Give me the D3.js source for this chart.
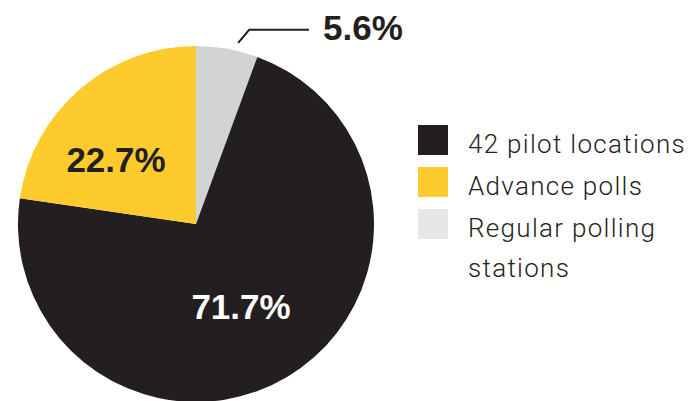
<!DOCTYPE html>
<html><head><meta charset="utf-8">
<script src="https://cdn.jsdelivr.net/npm/d3@7"></script>
<style>body{margin:0;background:#fff}svg{display:block}</style>
</head><body>
<script>
const categories = ["Regular polling stations", "42 pilot locations", "Advance polls"];
const values = [5.6, 71.7, 22.7];
const sliceLabels = ["5.6%", "71.7%", "22.7%"];
const colors = ["#d1d3d4", "#231f20", "#fecb2f"];
const legendItems = [["42 pilot locations"], ["Advance polls"], ["Regular polling", "stations"]];
const legendColors = ["#231f20", "#fecb2f", "#e6e7e8"];

const W = 696, H = 401;
const svg = d3.select("body").append("svg").attr("width", W).attr("height", H);
const cx = 196, cy = 224, R = 178;

const pie = d3.pie().sort(null).value(d => d)(values);
const arc = d3.arc().innerRadius(0).outerRadius(R);
const g = svg.append("g").attr("transform", `translate(${cx},${cy})`);
g.selectAll("path").data(pie).join("path").attr("d", arc).attr("fill", (d, i) => colors[i]);

const font = "'Liberation Sans', Arial, sans-serif";
// 71.7% label
g.append("text").attr("x", 45).attr("y", 95).attr("text-anchor", "middle")
  .attr("font-family", font).attr("font-weight", 700).attr("font-size", 35)
  .attr("fill", "#fff").text(sliceLabels[1]);
// 22.7% label
g.append("text").attr("x", -80).attr("y", -52).attr("text-anchor", "middle")
  .attr("font-family", font).attr("font-weight", 700).attr("font-size", 35)
  .attr("fill", "#231f20").text(sliceLabels[2]);
// leader for 5.6%
const ang = pie[0].startAngle + 0.65 * (pie[0].endAngle - pie[0].startAngle);
const p0 = [Math.sin(ang) * (R + 8), -Math.cos(ang) * (R + 8)];
g.append("path")
  .attr("d", `M${p0[0]},${p0[1]} L${p0[0] + 11},${p0[1] - 13} L${113},${p0[1] - 13}`)
  .attr("fill", "none").attr("stroke", "#231f20").attr("stroke-width", 2);
g.append("text").attr("x", 127).attr("y", -184)
  .attr("font-family", font).attr("font-weight", 700).attr("font-size", 35)
  .attr("fill", "#231f20").text(sliceLabels[0]);

// legend
const lg = svg.append("g");
const item = lg.selectAll("g").data(legendItems).join("g")
  .attr("transform", (d, i) => `translate(418,${125 + i * 42})`);
item.append("rect").attr("width", 30).attr("height", 30).attr("fill", (d, i) => legendColors[i]);
item.each(function(d) {
  const t = d3.select(this).append("text")
    .attr("font-family", "Roboto, sans-serif").attr("font-weight", 300)
    .attr("font-size", 26).attr("letter-spacing", 1.3).attr("fill", "#231f20");
  d.forEach((line, j) => t.append("tspan").attr("x", 50).attr("y", 28 + j * 40).text(line));
});
</script>
</body></html>
